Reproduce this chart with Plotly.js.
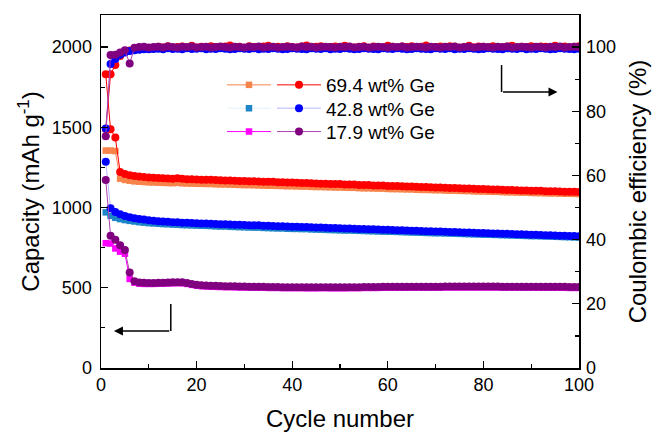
<!DOCTYPE html>
<html>
<head>
<meta charset="utf-8">
<script src="https://cdn.plot.ly/plotly-3.0.1.min.js"></script>
<style>html,body{margin:0;padding:0;background:#fff;}#chart{width:653px;height:432px;}</style>
</head>
<body>
<div id="chart"></div>
<script>
var cycles = Array.from({length: 100}, function (_, i) { return i + 1; });

var seriesNames = ['69.4 wt% Ge', '42.8 wt% Ge', '17.9 wt% Ge'];

// Capacity, squares (mAh/g)
var capSq694 = [1355,1355,1352,1180,1172,1167,1163,1161,1159,1157,
1156,1155,1154,1153,1152,1154,1151,1150,1149,1148,
1148,1147,1147,1145,1144,1144,1143,1142,1141,1140,
1140,1139,1138,1137,1136,1136,1135,1134,1133,1133,
1132,1131,1131,1129,1128,1128,1127,1126,1125,1125,
1124,1123,1123,1121,1120,1120,1119,1118,1118,1116,
1115,1115,1114,1113,1113,1111,1110,1110,1109,1108,
1108,1106,1105,1105,1104,1103,1103,1101,1100,1100,
1099,1098,1098,1096,1095,1095,1094,1093,1093,1091,
1090,1090,1089,1088,1088,1087,1086,1086,1085,1084];

var capSq428 = [970,948,936,928,922,917,913,909,906,903,
901,899,897,896,894,893,891,890,889,888,
887,886,885,883,882,882,880,879,878,877,
876,875,875,873,872,871,870,870,868,867,
867,866,866,864,863,862,861,860,859,858,
857,857,856,855,854,853,852,851,850,849,
849,848,847,846,845,844,843,842,841,840,
840,839,838,837,836,835,834,833,832,831,
831,830,829,828,827,826,825,824,823,822,
822,821,820,819,818,817,816,815,814,813];

var capSq179 = [778,776,745,725,712,555,532,526,524,524,
524,525,526,527,528,529,528,524,518,513,
510,508,507,506,505,504,504,503,502,502,
501,501,500,500,499,499,499,498,498,498,
498,498,497,497,497,498,498,497,497,497,
497,498,498,498,499,499,499,499,500,500,
500,500,500,500,501,501,501,501,501,501,
501,502,502,502,502,502,502,502,502,502,
502,502,502,501,501,501,501,501,501,501,
501,500,500,500,500,500,500,499,499,499];

// Capacity, circles (mAh/g)
var capCi694 = [1830,1488,1436,1222,1209,1202,1197,1193,1190,1187,
1186,1184,1182,1181,1180,1183,1180,1177,1176,1175,
1174,1173,1173,1171,1170,1169,1169,1167,1166,1165,
1164,1164,1162,1161,1160,1160,1158,1157,1156,1156,
1154,1153,1153,1151,1150,1149,1149,1147,1146,1146,
1144,1143,1143,1141,1140,1140,1138,1137,1137,1135,
1134,1134,1132,1131,1131,1129,1128,1128,1126,1125,
1125,1123,1122,1122,1120,1119,1119,1117,1116,1116,
1114,1113,1113,1111,1110,1110,1108,1107,1107,1105,
1104,1104,1102,1101,1101,1100,1099,1099,1098,1097];

var capCi428 = [1285,995,972,958,948,940,934,929,925,921,
918,915,913,911,909,908,906,905,903,902,
901,900,899,897,896,896,894,893,892,891,
890,889,889,887,886,885,884,884,882,881,
880,879,879,877,876,875,874,873,872,871,
870,869,868,867,866,865,864,863,862,861,
860,859,858,857,856,855,854,853,852,851,
850,849,848,847,846,845,844,843,842,841,
840,839,838,837,836,835,834,833,832,831,
830,829,828,827,826,825,824,823,822,821];

var capCi179 = [1171,825,800,765,735,595,540,533,531,530,
530,531,532,533,534,535,534,530,524,519,
516,514,513,512,511,510,510,509,508,508,
507,507,506,506,505,505,505,504,504,504,
504,504,503,503,503,504,504,503,503,503,
503,504,504,504,505,505,505,505,506,506,
506,506,506,506,507,507,507,507,507,507,
507,508,508,508,508,508,508,508,508,508,
508,508,508,507,507,507,507,507,507,507,
507,506,506,506,506,506,506,505,505,505];

// Coulombic efficiency (%)
var ce694 = [74.5,91.5,94.4,97.2,98.4,98.9,99.2,99.4,99.6,99.5,
99.8,100.1,99.9,100.3,99.7,100.0,100.2,99.8,100.4,99.9,
100.1,99.7,100.3,100.0,99.8,100.2,100.5,99.9,100.1,99.8,
100.3,100.0,99.7,100.2,100.4,99.9,100.1,99.8,100.3,100.0,
99.9,100.2,100.5,99.8,100.1,100.3,99.9,100.0,100.2,99.8,
100.4,100.0,99.9,100.1,100.3,99.8,100.2,100.0,99.9,100.4,
100.1,99.8,100.2,100.0,100.3,99.9,100.1,100.5,99.8,100.0,
100.2,99.9,100.3,100.1,99.8,100.0,100.4,99.9,100.2,100.1,
99.8,100.3,100.0,99.9,100.2,100.4,99.8,100.1,100.0,100.3,
99.9,100.2,100.1,99.8,100.4,100.0,100.2,99.9,100.1,100.3];

var ce428 = [74.6,94.7,96.3,97.6,98.3,98.8,99.0,99.2,99.3,99.3,
99.4,99.5,99.3,99.6,99.4,99.5,99.3,99.6,99.4,99.5,
99.6,99.3,99.5,99.4,99.6,99.5,99.3,99.4,99.6,99.5,
99.4,99.6,99.3,99.5,99.4,99.6,99.5,99.3,99.4,99.6,
99.5,99.4,99.3,99.6,99.5,99.4,99.6,99.3,99.5,99.4,
99.6,99.5,99.3,99.4,99.6,99.5,99.4,99.3,99.6,99.5,
99.4,99.6,99.5,99.3,99.4,99.6,99.5,99.4,99.3,99.6,
99.5,99.4,99.6,99.3,99.5,99.4,99.6,99.5,99.3,99.4,
99.6,99.5,99.4,99.3,99.6,99.5,99.4,99.6,99.3,99.5,
99.4,99.6,99.5,99.3,99.4,99.6,99.5,99.4,99.3,99.5];

var ce179 = [72.2,97.5,97.6,98.3,99.0,94.9,99.8,100.0,100.1,99.9,
100.0,100.1,99.9,100.2,100.0,99.9,100.1,100.0,100.2,99.9,
100.0,100.1,99.9,100.0,100.2,100.0,99.9,100.1,100.0,99.9,
100.1,100.0,100.2,99.9,100.0,100.1,99.9,100.0,100.1,100.0,
99.9,100.2,100.0,100.1,99.9,100.0,100.1,100.0,99.9,100.1,
100.0,100.2,99.9,100.0,100.1,99.9,100.0,100.1,100.0,99.9,
100.1,100.0,100.2,99.9,100.0,100.1,100.0,99.9,100.1,100.0,
99.9,100.1,100.0,100.2,99.9,100.0,100.1,99.9,100.0,100.1,
100.0,99.9,100.1,100.0,100.2,99.9,100.0,100.1,100.0,99.9,
100.1,100.0,99.9,100.1,100.0,100.2,99.9,100.0,100.1,100.0];

var FONT = 'Liberation Sans, Arial, sans-serif';

function sq(y, col, lineCol, leg) {
  return {x: cycles, y: y, type: 'scatter', mode: 'lines+markers', name: '\u00a0',
    legend: leg, showlegend: true,
    marker: {symbol: 'square', size: 6.5, color: col},
    line: {color: lineCol, width: 1}};
}
function ci(y, col, lineCol, name, leg, axis, show) {
  return {x: cycles, y: y, type: 'scatter', mode: 'lines+markers', name: name,
    legend: leg, showlegend: show, yaxis: axis,
    marker: {symbol: 'circle', size: 8, color: col},
    line: {color: lineCol, width: 1}};
}

var traces = [
  sq(capSq694, '#F7844A', '#F7844A', 'legend4'),
  sq(capSq428, '#1C86C6', 'rgba(28,134,198,0.12)', 'legend5'),
  sq(capSq179, '#FF00FF', '#FF00FF', 'legend6'),
  ci(capCi694, '#FF0000', '#FF0000', seriesNames[0], 'legend', 'y', true),
  ci(capCi428, '#0000FF', 'rgba(110,110,255,0.5)', seriesNames[1], 'legend2', 'y', true),
  ci(capCi179, '#800080', '#B040B0', seriesNames[2], 'legend3', 'y', true),
  ci(ce694, '#FF0000', '#FF0000', seriesNames[0], 'legend', 'y2', false),
  ci(ce428, '#0000FF', 'rgba(110,110,255,0.5)', seriesNames[1], 'legend2', 'y2', false),
  ci(ce179, '#800080', '#B040B0', seriesNames[2], 'legend3', 'y2', false)
];

var axisCommon = {
  showline: true, linecolor: '#000', linewidth: 1.5,
  ticks: 'inside', ticklen: 7, tickwidth: 1.2, tickcolor: '#000',
  showgrid: false, zeroline: false,
  tickfont: {family: FONT, size: 18, color: '#000'}
};

function leg(x, y) {
  return {x: x, y: y, xanchor: 'left', yanchor: 'top', bgcolor: 'rgba(0,0,0,0)',
    font: {family: FONT, size: 19, color: '#000'}, itemwidth: 44, tracegroupgap: 0};
}
var col1 = 0.2531, col2 = 0.3577;
var row1 = 0.8555, row2 = 0.7895, row3 = 0.7232;

var layout = {
  width: 653, height: 432,
  margin: {l: 101, r: 74, t: 15, b: 64},
  paper_bgcolor: '#fff', plot_bgcolor: '#fff',
  font: {family: FONT, color: '#000'},
  xaxis: Object.assign({}, axisCommon, {
    range: [0, 100], tick0: 0, dtick: 20, mirror: true,
    minor: {dtick: 10, ticks: 'inside', ticklen: 4, tickcolor: '#000', tickwidth: 1.2},
    title: {text: 'Cycle number', font: {family: FONT, size: 24, color: '#000'}, standoff: 17}
  }),
  yaxis: Object.assign({}, axisCommon, {
    range: [0, 2200], tick0: 0, dtick: 500, ticklabelstandoff: 4,
    minor: {dtick: 250, ticks: 'inside', ticklen: 4, tickcolor: '#000', tickwidth: 1.2},
    title: {text: 'Capacity (mAh g<sup>-1</sup>)', font: {family: FONT, size: 24, color: '#000'}, standoff: 5}
  }),
  yaxis2: Object.assign({}, axisCommon, {
    overlaying: 'y', side: 'right', range: [0, 110], tick0: 0, dtick: 20, ticklabelstandoff: 2,
    minor: {dtick: 10, ticks: 'inside', ticklen: 4, tickcolor: '#000', tickwidth: 1.2},
    title: {text: 'Coulombic efficiency (%)', font: {family: FONT, size: 24, color: '#000'}, standoff: 14}
  }),
  legend: leg(col2, row1),
  legend2: leg(col2, row2),
  legend3: leg(col2, row3),
  legend4: leg(col1, row1),
  legend5: leg(col1, row2),
  legend6: leg(col1, row3),
  shapes: [
    {type: 'line', xref: 'x', yref: 'y', x0: 14.6, x1: 14.6, y0: 230, y1: 399, line: {color: '#000', width: 1.5}},
    {type: 'line', xref: 'x', yref: 'y', x0: 83.8, x1: 83.8, y0: 1720, y1: 1888, line: {color: '#000', width: 1.5}}
  ],
  annotations: [
    {x: 2.7, y: 230, xref: 'x', yref: 'y', ax: 14.6, ay: 230, axref: 'x', ayref: 'y', text: '',
      showarrow: true, arrowhead: 2, arrowsize: 1.2, arrowwidth: 1.5, arrowcolor: '#000'},
    {x: 95.5, y: 1720, xref: 'x', yref: 'y', ax: 83.8, ay: 1720, axref: 'x', ayref: 'y', text: '',
      showarrow: true, arrowhead: 2, arrowsize: 1.2, arrowwidth: 1.5, arrowcolor: '#000'}
  ]
};

Plotly.newPlot('chart', traces, layout, {displayModeBar: false, staticPlot: true});
</script>
</body>
</html>
